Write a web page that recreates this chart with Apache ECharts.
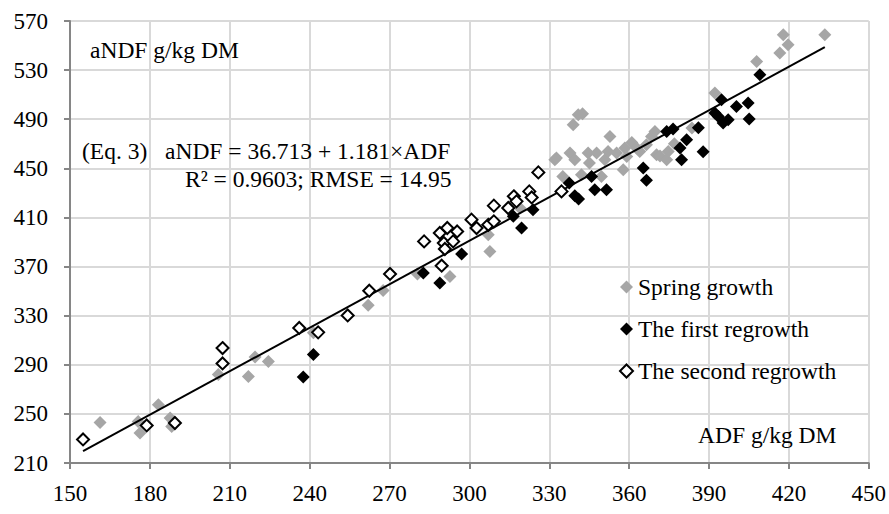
<!DOCTYPE html>
<html>
<head>
<meta charset="utf-8">
<script src="https://cdn.jsdelivr.net/npm/echarts@6/dist/echarts.min.js"></script>
<style>
  html, body { margin: 0; padding: 0; background: #fff; }
  #chart { width: 889px; height: 514px; }
</style>
</head>
<body>
<div id="chart"></div>
<script>
// ADF (x) vs aNDF (y), g/kg DM
var springGrowth = [
  [161.3, 243], [175.6, 243.9], [176.3, 234.4], [183.2, 257.5], [187.6, 246.7], [188.2, 239.8],
  [205.7, 282], [217, 280.5], [219.5, 296.3], [224.5, 292.7],
  [241.4, 316], [262, 338.5], [267.6, 350.5], [280.5, 364], [292.7, 362],
  [307.7, 382.3], [307.1, 396], [319, 417.7],
  [332.1, 457], [332.7, 458.4], [335.1, 443.4], [337.8, 462.5], [339.6, 457], [339, 485.5],
  [340.9, 493.7], [342.5, 494.5], [342.1, 444.8], [344.6, 462.5], [345.1, 454.3], [347.8, 462.5],
  [349.6, 443.4], [350.9, 457], [352.1, 463.8], [352.8, 476], [355.3, 462.5], [357.8, 448.9],
  [358.4, 466.6], [359.1, 459.7], [361, 471], [362.8, 466.6], [364, 463.8], [366.5, 469.2],
  [368.4, 476], [369.7, 480.1], [370.3, 461.1], [371.6, 460], [374.1, 457], [374.7, 463.8],
  [377, 470], [383.6, 482.9], [392.2, 511.4], [407.9, 537.1], [416.6, 543.9], [417.9, 558.8],
  [419.7, 550.7], [433.5, 558.8]
];
var firstRegrowth = [
  [237.6, 280], [241.4, 298.4], [282.7, 364.7], [288.9, 356.6], [297.1, 380.2],
  [316.5, 410.9], [319.6, 401.4], [323.9, 416.3], [337.5, 438], [339.6, 427.7], [341, 425],
  [345.9, 443.4], [347.1, 432.6], [351.5, 432.6], [365.3, 450.3], [366.5, 440.2],
  [374.1, 480.1], [376.5, 482], [379.1, 466.6], [379.7, 457], [381.6, 473.3], [386, 483],
  [387.8, 463.5], [392.2, 495.1], [393.5, 492.3], [394.7, 505.9], [395.3, 486.9],
  [397.2, 489.6], [400.3, 500.4], [404.7, 503.2], [405.1, 490.2], [409.1, 526.3]
];
var secondRegrowth = [
  [154.9, 229.2], [178.8, 240.6], [189.4, 242.6], [207.3, 291.1], [207.3, 303.6],
  [236.1, 320], [243.2, 316.4], [254.3, 330.2], [262.4, 350.3], [270.2, 364],
  [283, 390.5], [288.9, 397.3], [289.6, 370.7], [290.4, 389.2], [290.8, 384.3],
  [291.7, 401.4], [293.9, 390.5], [295.4, 398.6], [300.8, 408.2], [302.7, 401.4],
  [307.1, 404], [309.2, 406.8], [309.2, 419.6], [314.6, 417.7], [316.7, 427.2],
  [317.7, 423.1], [322.5, 431.2], [323.4, 426.3], [325.9, 446.7], [334.6, 431.2]
];
var fitIntercept = 36.713;
var fitSlope = 1.181;
var xTicks = { min: 150, max: 450, step: 30 };
var yTicks = { min: 210, max: 570, step: 40 };

var allX = springGrowth.concat(firstRegrowth, secondRegrowth).map(function (p) { return p[0]; });
var x0 = Math.min.apply(null, allX), x1 = Math.max.apply(null, allX);
var fitLine = [[x0, fitIntercept + fitSlope * x0], [x1, fitIntercept + fitSlope * x1]];

var serif = '"Liberation Serif", "DejaVu Serif", serif';
var textFont = '23.5px ' + serif;
var chart = echarts.init(document.getElementById('chart'), null, { renderer: 'svg' });

chart.setOption({
  animation: false,
  grid: { left: 70, right: 20, top: 21, bottom: 51 },
  xAxis: {
    type: 'value', min: xTicks.min, max: xTicks.max, interval: xTicks.step,
    axisLine: { onZero: false, lineStyle: { color: '#868686', width: 2 } },
    axisTick: { show: true, length: 6, lineStyle: { color: '#868686', width: 2 } },
    axisLabel: { color: '#000', fontFamily: serif, fontSize: 23, margin: 19 },
    splitLine: { lineStyle: { color: '#d9d9d9', width: 2 } }
  },
  yAxis: {
    type: 'value', min: yTicks.min, max: yTicks.max, interval: yTicks.step,
    axisLine: { show: true, onZero: false, lineStyle: { color: '#868686', width: 2 } },
    axisTick: { show: true, length: 6, lineStyle: { color: '#868686', width: 2 } },
    axisLabel: { color: '#000', fontFamily: serif, fontSize: 23, margin: 22 },
    splitLine: { lineStyle: { color: '#d9d9d9', width: 2 } }
  },
  legend: {
    orient: 'vertical', left: 614, top: 270, itemGap: 18,
    itemWidth: 13, itemHeight: 13,
    data: ['Spring growth', 'The first regrowth', 'The second regrowth'],
    textStyle: { fontFamily: serif, fontSize: 23.5, color: '#000', lineHeight: 23 }
  },
  series: [
    {
      name: 'Spring growth', type: 'scatter', symbol: 'diamond', symbolSize: 13,
      itemStyle: { color: '#a6a6a6', opacity: 1 }, data: springGrowth
    },
    {
      type: 'line', data: fitLine, symbol: 'none', silent: true,
      lineStyle: { color: '#000', width: 2 }, z: 3
    },
    {
      name: 'The first regrowth', type: 'scatter', symbol: 'diamond', symbolSize: 13,
      itemStyle: { color: '#000', opacity: 1 }, data: firstRegrowth, z: 4
    },
    {
      name: 'The second regrowth', type: 'scatter', symbol: 'diamond', symbolSize: 12,
      itemStyle: { color: '#fff', borderColor: '#000', borderWidth: 2, opacity: 1 },
      data: secondRegrowth, z: 5
    }
  ],
  graphic: [
    { type: 'text', z: 100, left: 90, top: 38, style: { text: 'aNDF g/kg DM', font: textFont, fill: '#000' } },
    { type: 'text', z: 100, left: 82, top: 139, style: { text: '(Eq. 3)', font: textFont, fill: '#000' } },
    { type: 'text', z: 100, left: 165, top: 139, style: { text: 'aNDF = 36.713 + 1.181×ADF', font: textFont, fill: '#000' } },
    { type: 'text', z: 100, left: 185, top: 167, style: { text: 'R² = 0.9603; RMSE = 14.95', font: textFont, fill: '#000' } },
    { type: 'text', z: 100, left: 698, top: 423, style: { text: 'ADF g/kg DM', font: textFont, fill: '#000' } }
  ]
});
</script>
</body>
</html>
